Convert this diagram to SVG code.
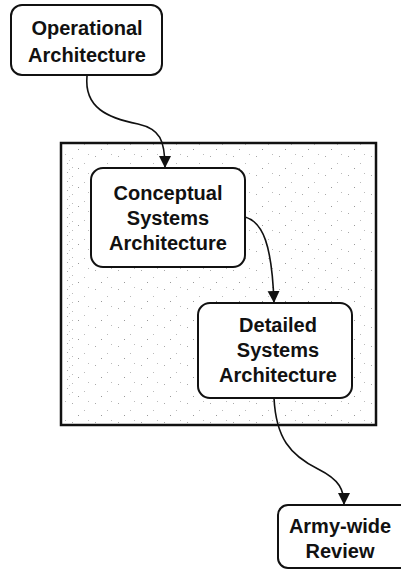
<svg xmlns="http://www.w3.org/2000/svg" width="401" height="571" viewBox="0 0 401 571">
<defs>
<style>
.node{fill:#fff;stroke:#111;stroke-width:2}
.lbl{font-family:"Liberation Sans",Arial,sans-serif;font-weight:bold;font-size:20px;fill:#111;text-anchor:middle}
.conn{fill:none;stroke:#111;stroke-width:1.6}
</style>
<marker id="arr" markerUnits="userSpaceOnUse" markerWidth="13" markerHeight="13" viewBox="0 0 13 13" refX="12" refY="6.5" orient="auto">
<path d="M0,0.5 L12,6.5 L0,12.5 Z" fill="#111"/>
</marker>
<pattern id="speck" width="23" height="19" patternUnits="userSpaceOnUse">
<rect width="23" height="19" fill="#fff"/>
<rect x="3" y="4" width="1" height="1" fill="#aaa"/>
<rect x="15" y="11" width="1" height="1" fill="#bbb"/>
<rect x="9" y="16" width="1" height="1" fill="#999"/>
<rect x="19" y="2" width="1" height="1" fill="#bbb"/>
</pattern>
<pattern id="speck2" width="11" height="9" patternUnits="userSpaceOnUse">
<rect width="11" height="9" fill="#fff"/>
<rect x="1" y="1" width="1" height="1" fill="#aaa"/>
<rect x="6" y="5" width="1" height="1" fill="#bbb"/>
<rect x="3" y="7" width="1" height="1" fill="#ccc"/>
</pattern>
</defs>
<g id="container">
<rect x="61" y="143" width="315" height="282" fill="url(#speck)" stroke="none"/>
<rect x="63" y="155" width="12" height="240" fill="url(#speck2)"/>
<rect x="61" y="143" width="315" height="282" fill="none" stroke="#111" stroke-width="2.5"/>
</g>
<g id="connectors">
<path class="conn" d="M87,76 C84,108 108,118 138,124 C160,129 165,140 165,168" marker-end="url(#arr)"/>
<path class="conn" d="M245,217 C263,222 272,245 274,303" marker-end="url(#arr)"/>
<path class="conn" d="M274,398 C276,438 290,455 318,469 C340,480 344,490 344,505" marker-end="url(#arr)"/>
</g>
<g id="operational">
<rect class="node" x="11" y="5" width="151" height="70" rx="11"/>
<text class="lbl" x="87" y="35">Operational</text>
<text class="lbl" x="87" y="62">Architecture</text>
</g>
<g id="conceptual">
<rect class="node" x="91" y="168" width="154" height="99" rx="12"/>
<text class="lbl" x="168" y="200">Conceptual</text>
<text class="lbl" x="168" y="225">Systems</text>
<text class="lbl" x="168" y="250">Architecture</text>
</g>
<g id="detailed">
<rect class="node" x="198" y="303" width="154" height="95" rx="12"/>
<text class="lbl" x="278" y="332">Detailed</text>
<text class="lbl" x="278" y="357">Systems</text>
<text class="lbl" x="278" y="382">Architecture</text>
</g>
<g id="armywide">
<rect class="node" x="278" y="505" width="140" height="63" rx="10"/>
<text class="lbl" x="340" y="533">Army-wide</text>
<text class="lbl" x="340" y="558">Review</text>
</g>
</svg>
